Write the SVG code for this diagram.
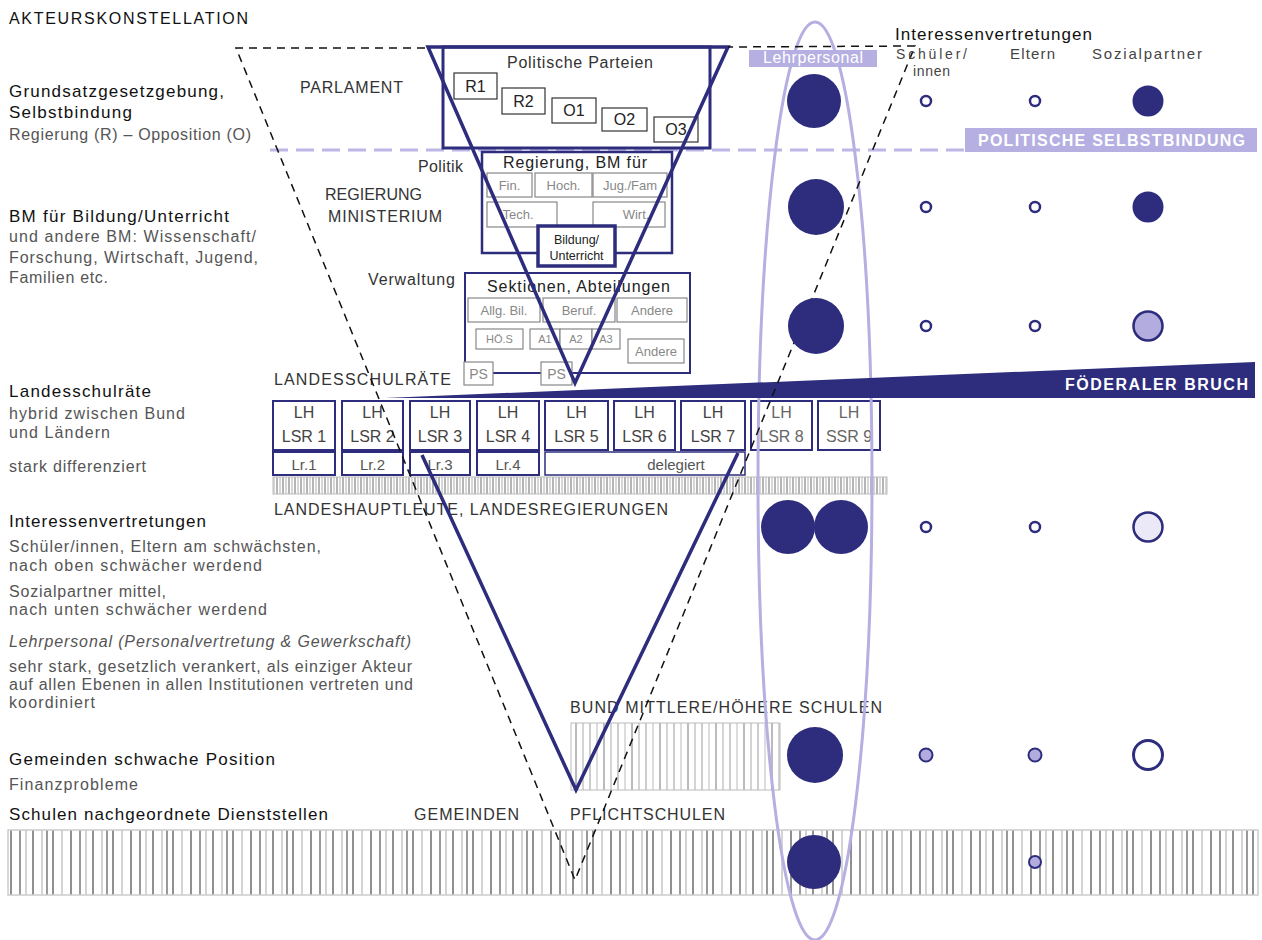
<svg xmlns="http://www.w3.org/2000/svg" width="1262" height="940" viewBox="0 0 1262 940">
<style>
text{font-family:"Liberation Sans",Arial,sans-serif}
.h{font-size:17px;fill:#111}
.s{font-size:16px;fill:#555}
.lab{font-size:16px;fill:#333}
.sm{font-size:13px;fill:#888}
.xs{font-size:11px;fill:#888}
.bx{fill:#fff;stroke:#333;stroke-width:1.2}
.gb{fill:#fff;stroke:#888;stroke-width:1.2}
.nv{fill:none;stroke:#2d2c7d}
.nvf{fill:#2d2c7d}
.oc{fill:#fff;stroke:#2d2c7d;stroke-width:2.5}
.lc{fill:#b3acde;stroke:#2d2c7d;stroke-width:2}
.wt{fill:#fff;font-weight:bold;font-size:16px}
</style>
<defs>
<pattern id="hb" width="60" height="10" patternUnits="userSpaceOnUse">
<rect width="60" height="10" fill="#fff"/>
<g stroke-width="1">
<line x1="2" y1="0" x2="2" y2="10" stroke="#aaa"/>
<line x1="11" y1="0" x2="11" y2="10" stroke="#222"/>
<line x1="20" y1="0" x2="20" y2="10" stroke="#333"/>
<line x1="26" y1="0" x2="26" y2="10" stroke="#aaa"/>
<line x1="33" y1="0" x2="33" y2="10" stroke="#222"/>
<line x1="42" y1="0" x2="42" y2="10" stroke="#aaa"/>
<line x1="47" y1="0" x2="47" y2="10" stroke="#333"/>
<line x1="53" y1="0" x2="53" y2="10" stroke="#222"/>
</g>
</pattern>
<pattern id="hl" width="6" height="10" patternUnits="userSpaceOnUse">
<rect width="6" height="10" fill="#fff"/>
<line x1="1" y1="0" x2="1" y2="10" stroke="#444" stroke-width="0.8"/>
<line x1="4" y1="0" x2="4" y2="10" stroke="#999" stroke-width="0.8"/>
</pattern>
<pattern id="hu" width="28" height="10" patternUnits="userSpaceOnUse">
<rect width="28" height="10" fill="#fff"/>
<line x1="2" y1="0" x2="2" y2="10" stroke="#999" stroke-width="1"/>
<line x1="9" y1="0" x2="9" y2="10" stroke="#bbb" stroke-width="1"/>
<line x1="16" y1="0" x2="16" y2="10" stroke="#777" stroke-width="1"/>
<line x1="23" y1="0" x2="23" y2="10" stroke="#aaa" stroke-width="1"/>
</pattern>
</defs>
<rect width="1262" height="940" fill="#fff"/>

<g id="left-text">
<text x="9" y="24" font-size="16" fill="#111" textLength="239">AKTEURSKONSTELLATION</text>
<text class="h" x="9" y="97" textLength="215">Grundsatzgesetzgebung,</text>
<text class="h" x="9" y="118" textLength="123">Selbstbindung</text>
<text class="s" x="9" y="140" textLength="242">Regierung (R) – Opposition (O)</text>
<text class="h" x="9" y="222" textLength="220">BM für Bildung/Unterricht</text>
<text class="s" x="9" y="242" textLength="247">und andere BM: Wissenschaft/</text>
<text class="s" x="9" y="263" textLength="249">Forschung, Wirtschaft, Jugend,</text>
<text class="s" x="9" y="283" textLength="99">Familien etc.</text>
<text class="h" x="9" y="397" textLength="142">Landesschulräte</text>
<text class="s" x="9" y="419" textLength="176" fill="#444">hybrid zwischen Bund</text>
<text class="s" x="9" y="438" textLength="101" fill="#444">und Ländern</text>
<text class="s" x="9" y="472" textLength="137" fill="#666">stark differenziert</text>
<text class="h" x="9" y="527" textLength="197">Interessenvertretungen</text>
<text class="s" x="9" y="552" textLength="312">Schüler/innen, Eltern am schwächsten,</text>
<text class="s" x="9" y="571" textLength="253">nach oben schwächer werdend</text>
<text class="s" x="9" y="597" textLength="157">Sozialpartner mittel,</text>
<text class="s" x="9" y="615" textLength="258">nach unten schwächer werdend</text>
<text class="s" x="9" y="647" textLength="402" font-style="italic" fill="#777">Lehrpersonal (Personalvertretung &amp; Gewerkschaft)</text>
<text class="s" x="9" y="672" textLength="403" fill="#444">sehr stark, gesetzlich verankert, als einziger Akteur</text>
<text class="s" x="9" y="690" textLength="404" fill="#444">auf allen Ebenen in allen Institutionen vertreten und</text>
<text class="s" x="9" y="708" textLength="86" fill="#444">koordiniert</text>
<text class="h" x="9" y="765" textLength="266">Gemeinden schwache Position</text>
<text class="s" x="9" y="790" textLength="129">Finanzprobleme</text>
<text class="h" x="9" y="820" textLength="319">Schulen nachgeordnete Dienststellen</text>
</g>

<g id="hatches">
<rect x="8" y="830" width="1250" height="65" fill="url(#hb)" stroke="#ccc" stroke-width="1.5"/>
<rect x="571" y="723" width="209" height="67" fill="url(#hu)" stroke="#bbb" stroke-width="1"/>
<rect x="273" y="477" width="614" height="17" fill="url(#hl)" stroke="#bbb" stroke-width="1"/>
</g>

<g id="level-labels">
<text class="lab" x="300" y="93" textLength="103">PARLAMENT</text>
<text class="lab" x="325" y="200" textLength="97" fill="#555">REGIERUNG</text>
<text class="lab" x="328" y="222" textLength="114" fill="#555">MINISTERIUM</text>
<text class="lab" x="418" y="172" font-size="15" textLength="45">Politik</text>
<text class="lab" x="368" y="285" textLength="87">Verwaltung</text>
<text class="lab" x="274" y="385" textLength="177">LANDESSCHULRÄTE</text>
<text class="lab" x="274" y="515" textLength="394">LANDESHAUPTLEUTE, LANDESREGIERUNGEN</text>
<text class="lab" x="570" y="713" textLength="312">BUND MITTLERE/HÖHERE SCHULEN</text>
<text class="lab" x="414" y="820" textLength="105">GEMEINDEN</text>
<text class="lab" x="570" y="820" textLength="155">PFLICHTSCHULEN</text>
</g>

<g id="selbstbindung-line">
<line x1="270" y1="150" x2="965" y2="150" stroke="#bdb6e6" stroke-width="3" stroke-dasharray="18 8"/>
<rect x="965" y="128" width="292" height="24" fill="#b5afe2"/>
<text class="wt" x="978" y="146" textLength="267">POLITISCHE SELBSTBINDUNG</text>
</g>

<g id="parlament">
<rect x="443" y="47" width="267" height="101" class="nv" stroke-width="3"/>
<text class="lab" x="507" y="68" textLength="146">Politische Parteien</text>
<g font-size="16" fill="#222" text-anchor="middle">
<rect class="bx" x="454" y="73" width="43" height="26"/><text x="475.5" y="92">R1</text>
<rect class="bx" x="502" y="88" width="43" height="26"/><text x="523.5" y="107">R2</text>
<rect class="bx" x="552" y="98" width="44" height="25"/><text x="574" y="116">O1</text>
<rect class="bx" x="602" y="108" width="45" height="23"/><text x="624.5" y="125">O2</text>
<rect class="bx" x="654" y="117" width="44" height="25"/><text x="676" y="135">O3</text>
</g>
</g>

<g id="regierung">
<rect x="482" y="152" width="190" height="101" class="nv" stroke-width="2.5"/>
<text x="503" y="168" font-size="16" fill="#222" textLength="144">Regierung, BM für</text>
<g class="sm" text-anchor="middle">
<rect class="gb" x="487" y="173" width="45" height="24"/><text x="509.5" y="190">Fin.</text>
<rect class="gb" x="535" y="173" width="57" height="24"/><text x="563.5" y="190">Hoch.</text>
<rect class="gb" x="593" y="173" width="74" height="24"/><text x="630" y="190">Jug./Fam</text>
<rect class="gb" x="487" y="202" width="70" height="25"/><text x="518" y="219">Tech.</text>
<rect class="gb" x="593" y="202" width="72" height="25"/><text x="636" y="219">Wirt.</text>
</g>
</g>

<g id="bildung">
<rect x="538" y="226" width="77" height="40" fill="#fff" stroke="#2d2c7d" stroke-width="3.5"/>
<text x="576.5" y="244" font-size="12.5" fill="#222" text-anchor="middle">Bildung/</text>
<text x="576.5" y="260" font-size="12.5" fill="#222" text-anchor="middle">Unterricht</text>
</g>

<g id="sektionen">
<rect x="465" y="273" width="225" height="100" class="nv" stroke-width="2"/>
<text x="487" y="292" font-size="16" fill="#222" textLength="183">Sektionen, Abteilungen</text>
<g class="sm" text-anchor="middle">
<rect class="gb" x="468" y="298" width="72" height="24"/><text x="504" y="315">Allg. Bil.</text>
<rect class="gb" x="543" y="298" width="72" height="24"/><text x="579" y="315">Beruf.</text>
<rect class="gb" x="617" y="298" width="70" height="24"/><text x="652" y="315">Andere</text>
<rect class="gb" x="628" y="339" width="56" height="24"/><text x="656" y="356">Andere</text>
</g>
<g class="xs" text-anchor="middle">
<rect class="gb" x="476" y="329" width="47" height="20"/><text x="499.5" y="343">HÖ.S</text>
<rect class="gb" x="530" y="329" width="30" height="20"/><text x="545" y="343">A1</text>
<rect class="gb" x="560" y="329" width="32" height="20"/><text x="576" y="343">A2</text>
<rect class="gb" x="592" y="329" width="28" height="20"/><text x="606" y="343">A3</text>
</g>
<g font-size="14" fill="#888" text-anchor="middle">
<rect class="gb" x="464" y="362" width="29" height="23"/><text x="478.5" y="379">PS</text>
<rect class="gb" x="541" y="362" width="31" height="23"/><text x="556.5" y="379">PS</text>
</g>
</g>

<g id="landesschulraete" font-size="16" fill="#444" text-anchor="middle">
<g class="nv" stroke-width="2">
<rect x="273" y="401" width="62" height="49" fill="#fff"/>
<rect x="342" y="401" width="61" height="49" fill="#fff"/>
<rect x="410" y="401" width="60" height="49" fill="#fff"/>
<rect x="477" y="401" width="62" height="49" fill="#fff"/>
<rect x="545" y="401" width="63" height="49" fill="#fff"/>
<rect x="614" y="401" width="61" height="49" fill="#fff"/>
<rect x="681" y="401" width="64" height="49" fill="#fff"/>
<rect x="751" y="401" width="61" height="49" fill="#fff"/>
<rect x="818" y="401" width="62" height="49" fill="#fff"/>
<rect x="273" y="452" width="62" height="23" fill="#fff"/>
<rect x="342" y="452" width="61" height="23" fill="#fff"/>
<rect x="410" y="452" width="60" height="23" fill="#fff"/>
<rect x="477" y="452" width="62" height="23" fill="#fff"/>
<rect x="545" y="452" width="200" height="23" fill="#fff" stroke-width="1.5"/>
</g>
<text x="304" y="418">LH</text><text x="304" y="442">LSR 1</text>
<text x="372.5" y="418">LH</text><text x="372.5" y="442">LSR 2</text>
<text x="440" y="418">LH</text><text x="440" y="442">LSR 3</text>
<text x="508" y="418">LH</text><text x="508" y="442">LSR 4</text>
<text x="576.5" y="418">LH</text><text x="576.5" y="442">LSR 5</text>
<text x="644.5" y="418">LH</text><text x="644.5" y="442">LSR 6</text>
<text x="713" y="418">LH</text><text x="713" y="442">LSR 7</text>
<text x="781.5" y="418" fill="#666">LH</text><text x="781.5" y="442" fill="#666">LSR 8</text>
<text x="849" y="418" fill="#666">LH</text><text x="849" y="442" fill="#666">SSR 9</text>
<g font-size="15" fill="#555">
<text x="304" y="470">Lr.1</text>
<text x="372.5" y="470">Lr.2</text>
<text x="440" y="470">Lr.3</text>
<text x="508" y="470">Lr.4</text>
<text x="676" y="470">delegiert</text>
</g>
</g>

<g id="lehrpersonal-ellipse">
<ellipse cx="815" cy="481" rx="57" ry="459" fill="none" stroke="#b5afe2" stroke-width="3"/>
<rect x="749" y="50" width="128" height="17" fill="#b5afe2"/>
<text x="813" y="63" font-size="16" fill="#fff" text-anchor="middle" textLength="100">Lehrpersonal</text>
</g>

<g id="foederaler-bruch">
<polygon points="385,398 1255,362 1255,398" fill="#2d2c7d"/>
<text class="wt" x="1065" y="390" textLength="183">FÖDERALER BRUCH</text>
</g>

<g id="connectors">
<polygon points="428,47 728,47 575,383" fill="none" stroke="#2d2c7d" stroke-width="3.5"/>
<polyline points="422,455 576,790 738,453" fill="none" stroke="#2d2c7d" stroke-width="3.5"/>
<polyline points="425,48 236,48 575,880 915,46 728,47" fill="none" stroke="#111" stroke-width="1.5" stroke-dasharray="8 6"/>
</g>

<g id="interessen-header">
<text x="895" y="40" font-size="17" fill="#111" textLength="197">Interessenvertretungen</text>
<text x="896" y="59" font-size="14" fill="#444" textLength="71">Schüler/</text>
<text x="913" y="76" font-size="14" fill="#444" textLength="37">innen</text>
<text x="1010" y="59" font-size="15" fill="#444" textLength="45">Eltern</text>
<text x="1092" y="59" font-size="15" fill="#444" textLength="110">Sozialpartner</text>
</g>

<g id="lehrpersonal-circles" class="nvf">
<circle cx="814" cy="101" r="27"/>
<circle cx="816" cy="207" r="28"/>
<circle cx="816" cy="326" r="28"/>
<circle cx="788" cy="527" r="27"/>
<circle cx="841" cy="527" r="27"/>
<circle cx="815" cy="755" r="28"/>
<circle cx="814" cy="862" r="27"/>
</g>

<g id="schueler-circles">
<circle class="oc" cx="926" cy="101" r="5"/>
<circle class="oc" cx="926" cy="207" r="5"/>
<circle class="oc" cx="926" cy="326" r="5"/>
<circle class="oc" cx="926" cy="527" r="5"/>
<circle class="lc" cx="926" cy="755" r="6.5"/>
</g>

<g id="eltern-circles">
<circle class="oc" cx="1035" cy="101" r="5"/>
<circle class="oc" cx="1035" cy="207" r="5"/>
<circle class="oc" cx="1035" cy="326" r="5"/>
<circle class="oc" cx="1035" cy="527" r="5"/>
<circle class="lc" cx="1035" cy="755" r="6.5"/>
<circle class="lc" cx="1035" cy="862" r="6"/>
</g>

<g id="sozialpartner-circles">
<circle cx="1148" cy="101" r="15.5" fill="#2d2c7d"/>
<circle cx="1148" cy="207" r="15.5" fill="#2d2c7d"/>
<circle cx="1148" cy="326" r="14.5" fill="#b3acde" stroke="#2d2c7d" stroke-width="2.5"/>
<circle cx="1148" cy="527" r="14.5" fill="#ebe9f7" stroke="#2d2c7d" stroke-width="2.5"/>
<circle cx="1148" cy="755" r="14.5" fill="#fff" stroke="#2d2c7d" stroke-width="3"/>
</g>
</svg>
